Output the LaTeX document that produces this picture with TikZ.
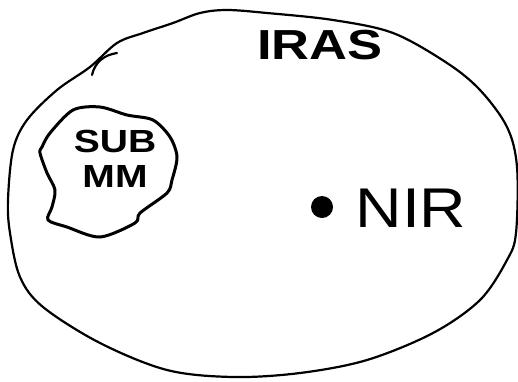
\documentclass[tikz,border=0pt]{standalone}
\usepackage{fontspec}
\setmainfont{Liberation Sans}
\begin{document}
\begin{tikzpicture}[x=1pt,y=-1pt,line cap=round,line join=round,
  sketch/.style={draw=black,line width=2.2pt},
  blobline/.style={draw=black,line width=3pt},
  label/.style={inner sep=0pt,anchor=base}]
\useasboundingbox (0,0) rectangle (518,381);
\fill[white] (0,0) rectangle (518,381);
% outer IRAS region
\draw[sketch] plot[smooth cycle,tension=0.55] coordinates {
 (143,33) (117,43) (90,67) (57,90) (27,120) (13,150) (8,200) (10,233)
 (20,277) (43,307) (100,343) (167,370) (233,377) (300,373) (367,360)
 (433,333) (480,300) (507,260) (516,233) (517,167) (507,127) (480,90)
 (447,63) (393,33) (333,20) (267,13) (227,10) (200,13) (173,23)};
\coordinate (hk) at (92,75);
\draw[sketch] (hk) .. controls (95,62) and (104,55) .. (117,53);
% SUB MM blob
\draw[blobline] plot[smooth cycle,tension=0.5] coordinates {
 (50,133) (73,110) (100,107) (127,115) (153,120) (170,137) (177,157)
 (172,180) (167,193) (140,213) (135,223) (100,237) (67,227) (48,220)
 (52,207) (55,190) (47,173) (40,153) (42,147)};
\node[inner sep=0pt,align=center,xscale=1.22,
  font=\fontsize{32}{35}\selectfont\bfseries] (submm) at (115,159)
  {SUB\\MM};
% IRAS label
\node[label,font=\fontsize{42}{42}\selectfont\bfseries,xscale=1.25] (iras) at (320,59) {IRAS};
% NIR dot and label
\fill[black] (322,207) circle (11) coordinate (dot);
\node[label,font=\fontsize{56}{56}\selectfont,xscale=1.15] (nir) at (411,227) {NIR};
\end{tikzpicture}
\end{document}
